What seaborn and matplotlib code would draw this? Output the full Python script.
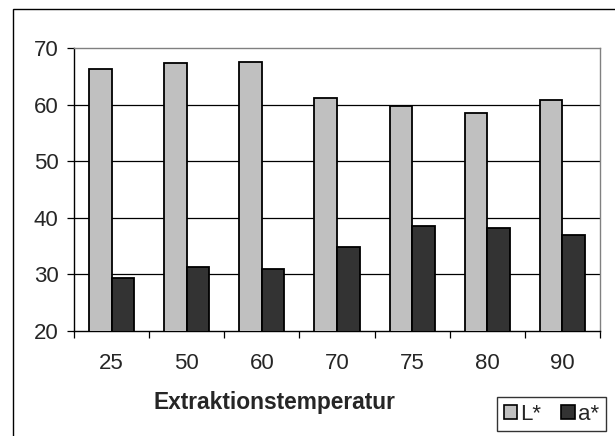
import matplotlib
matplotlib.use("Agg")
import matplotlib.pyplot as plt
from matplotlib.patches import Rectangle, Patch
import numpy as np
import pandas as pd
import seaborn as sns

# ---- data ----
temperatures = ["25", "50", "60", "70", "75", "80", "90"]
L_values = [66.3, 67.3, 67.5, 61.2, 59.7, 58.5, 60.9]
a_values = [29.4, 31.3, 31.0, 34.9, 38.5, 38.2, 37.0]
series_names = ["L*", "a*"]
y_ticks = [20, 30, 40, 50, 60, 70]
x_label = "Extraktionstemperatur"

df = pd.DataFrame({
    "temp": temperatures * 2,
    "value": L_values + a_values,
    "series": [series_names[0]] * len(temperatures) + [series_names[1]] * len(temperatures),
})

sns.set_theme(style="white")
plt.rcParams["font.family"] = ["Liberation Sans", "DejaVu Sans"]

W, H = 615, 436
fig = plt.figure(figsize=(W / 100, H / 100), dpi=100)
ax_l, ax_r, ax_t, ax_b = 74, 600, 48, 331
ax = fig.add_axes([ax_l / W, 1 - ax_b / H, (ax_r - ax_l) / W, (ax_b - ax_t) / H])

colors = ["#C0C0C0", "#333333"]
sns.barplot(data=df, x="temp", y="value", hue="series", order=temperatures,
            hue_order=series_names, palette=colors, edgecolor="black",
            linewidth=1.3, width=0.6, ax=ax, legend=False, zorder=3)

ax.set_ylim(20, 70)
ax.set_xlim(-0.5, len(temperatures) - 0.5)
ax.set_yticks(y_ticks)
ax.set_yticklabels([str(t) for t in y_ticks])
ax.set_ylabel("")
ax.grid(False)
for yv in y_ticks[1:-1]:
    ax.axhline(yv, color="black", lw=0.9, zorder=1)

# spines
ax.spines["left"].set_color("black")
ax.spines["bottom"].set_color("black")
ax.spines["top"].set_color("#808080")
ax.spines["right"].set_color("#808080")
for s in ax.spines.values():
    s.set_linewidth(1.0)
    s.set_visible(True)

# ticks
ax.tick_params(axis="y", which="major", direction="out", length=5, width=0.9,
               color="black", labelsize=16, pad=6, left=True)
ax.set_xticks(np.arange(len(temperatures)))
ax.set_xticklabels(temperatures)
ax.set_xticks(np.arange(len(temperatures) + 1) - 0.5, minor=True)
ax.tick_params(axis="x", which="major", length=0, labelsize=16, pad=16)
ax.tick_params(axis="x", which="minor", direction="out", length=5, width=0.9,
               color="black", bottom=True)

ax.set_xlabel(x_label, fontsize=16.4, fontweight="bold")
ax.xaxis.set_label_coords((274.5 - ax_l) / (ax_r - ax_l), (ax_b - 402) / (ax_b - ax_t))
ax.xaxis.label.set_va("center")

# legend
handles = [Patch(facecolor=c, edgecolor="black", lw=1.2) for c in colors]
leg = fig.legend(handles, series_names, loc="center",
                 bbox_to_anchor=(551.5 / W, 1 - 414 / H), ncol=2, frameon=True,
                 fancybox=False, edgecolor="black", fontsize=16,
                 handlelength=0.6, handleheight=0.6, handletextpad=0.15,
                 columnspacing=0.9, borderpad=0.3, borderaxespad=0)
leg.get_frame().set_linewidth(1.0)

# outer border (cropped on right/bottom)
fig.patches.append(Rectangle((12.5 / W, -0.1), 1.2, (1 - 8.7 / H) + 0.1,
                             transform=fig.transFigure, fill=False,
                             edgecolor="black", lw=1.0, clip_on=False))

fig.savefig("out.png", dpi=100)
